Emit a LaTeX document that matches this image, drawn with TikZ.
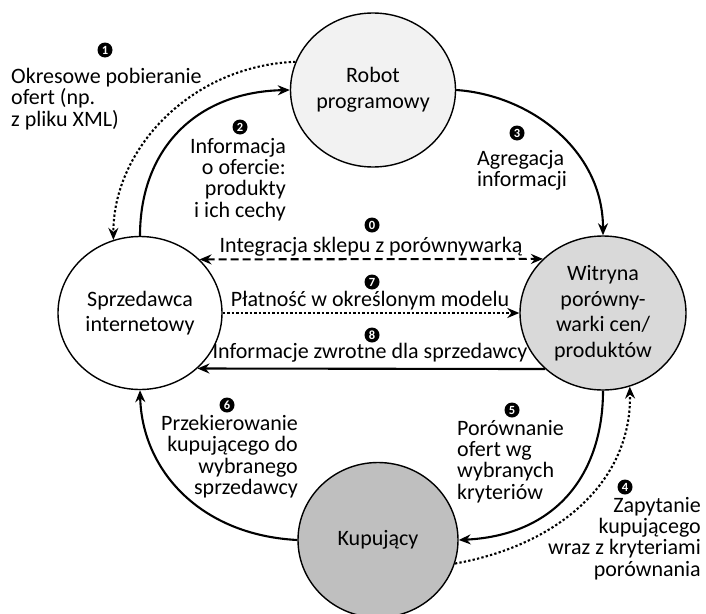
\documentclass[tikz,border=0pt]{standalone}
\usepackage{fontspec}
\setmainfont{Carlito}
\usetikzlibrary{shapes.geometric,arrows.meta}
\definecolor{robotfill}{HTML}{F2F2F2}
\definecolor{witfill}{HTML}{D9D9D9}
\definecolor{kupfill}{HTML}{BFBFBF}
\begin{document}
\begin{tikzpicture}[x=1pt,y=-1pt,
  state/.style={ellipse, draw, line width=1.4pt, inner sep=0, align=center,
    font=\fontsize{22}{25.5}\selectfont},
  lbl/.style={inner sep=0, font=\fontsize{22}{21.3}\selectfont},
  num/.style={circle, fill=black, text=white, inner sep=0, minimum size=15pt,
    font=\fontsize{12.5}{12.5}\selectfont\bfseries},
  flow/.style={line width=2.1pt, -{Stealth[length=12pt,width=10pt,inset=4pt]}},
  biflow/.style={line width=2.1pt, {Stealth[length=12pt,width=10pt,inset=4pt]}-{Stealth[length=12pt,width=10pt,inset=4pt]}},
  dots/.style={dash pattern=on 2.3pt off 2.2pt},
  dashes/.style={dash pattern=on 8pt off 4pt}]
\useasboundingbox (0,0) rectangle (706,613);

\node[state, fill=robotfill, minimum width=165pt, minimum height=154pt] (robot) at (373,90) {Robot\\programowy};
\node[state, fill=white, minimum width=164pt, minimum height=153pt] (spr) at (140,313) {Sprzedawca\\internetowy};
\node[state, fill=witfill, minimum width=166pt, minimum height=154pt] (wit) at (603,313) {Witryna\\porówny-\\warki cen/\\produktów};
\node[state, fill=kupfill, minimum width=160pt, minimum height=155pt] (kup) at (378,540) {Kupujący};

% connectors
\draw[flow, dots] (robot.160) .. controls (190,66) and (113,150) .. (spr.110);
\draw[flow] (spr.90) .. controls (140,150) and (195,92) .. (robot.180);
\draw[flow] (robot.0) .. controls (530,95) and (603,150) .. (wit.90);
\draw[biflow, dashes] (spr.42) -- (wit.138);
\draw[flow, dots] (spr.0) -- (wit.180);
\draw[flow] (wit.224) -- (spr.316);
\draw[flow, dots] (kup.-17) .. controls (560,545) and (632,480) .. (wit.-70);
\draw[flow] (wit.270) .. controls (603,470) and (560,535) .. (kup.0);
\draw[flow] (kup.180) .. controls (200,535) and (142,470) .. (spr.270);

% numbers
\node[num] (n1) at (105,50) {1};
\node[num] (n2) at (240,127) {2};
\node[num] (n3) at (517,133) {3};
\node[num] (n0) at (372,225) {0};
\node[num] (n7) at (372,282) {7};
\node[num] (n8) at (372,335) {8};
\node[num] (n6) at (227,405) {6};
\node[num] (n5) at (512,410) {5};
\node[num] (n4) at (625,487) {4};

% labels
\node[lbl, align=left, anchor=north west] (l1) at (11,68) {Okresowe pobieranie\\ofert (np.\\z pliku XML)};
\node[lbl, align=right, anchor=north east] (l2) at (286,138) {Informacja\\o ofercie:\\produkty\\i ich cechy};
\node[lbl, align=left, anchor=north west] (l3) at (477,150) {Agregacja\\informacji};
\node[lbl, anchor=base] (l0) at (371,252) {Integracja sklepu z porównywarką};
\node[lbl, anchor=base] (l7) at (370,306) {Płatność w określonym modelu};
\node[lbl, anchor=base] (l8) at (370,358) {Informacje zwrotne dla sprzedawcy};
\node[lbl, align=right, anchor=north east] (l6) at (298,415) {Przekierowanie\\kupującego do\\wybranego\\sprzedawcy};
\node[lbl, align=left, anchor=north west] (l5) at (457,420) {Porównanie\\ofert wg\\wybranych\\kryteriów};
\node[lbl, align=right, anchor=north east] (l4) at (701,497) {Zapytanie\\kupującego\\wraz z kryteriami\\porównania};
\end{tikzpicture}
\end{document}
